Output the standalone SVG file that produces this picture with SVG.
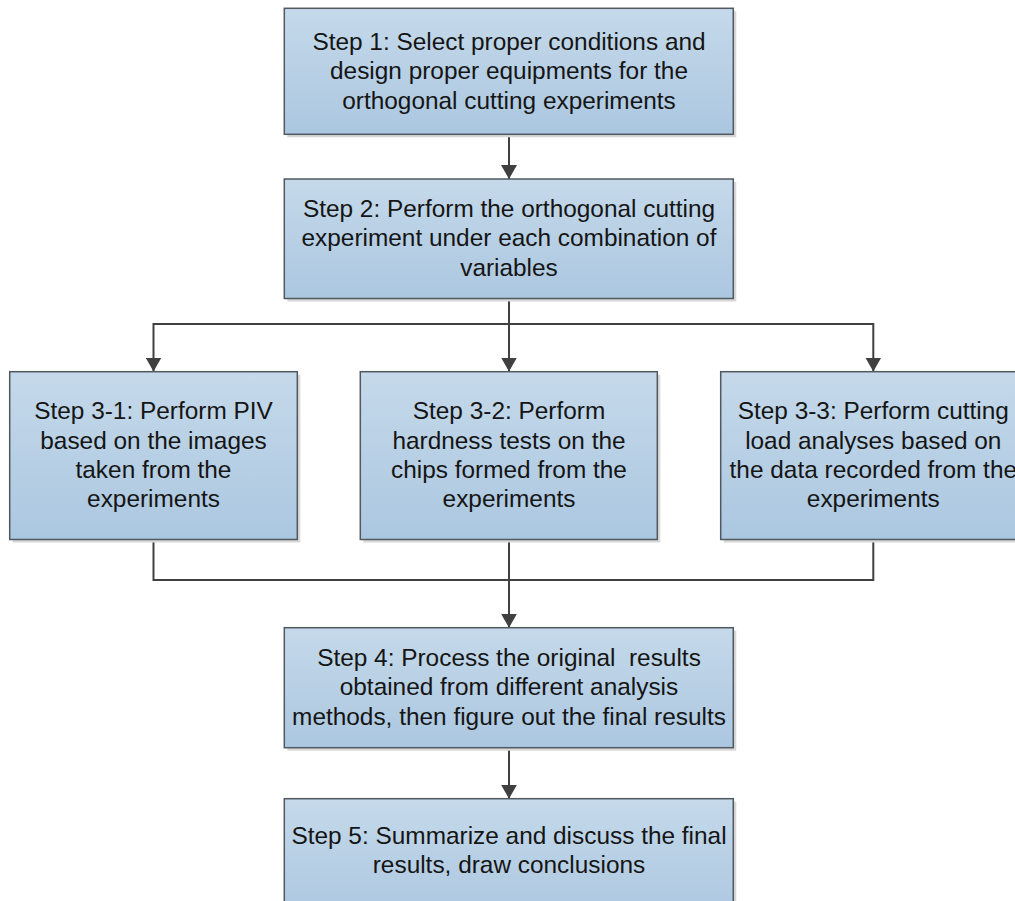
<svg xmlns="http://www.w3.org/2000/svg" width="1015" height="901" viewBox="0 0 1015 901">
<style>
.box{fill:url(#g);stroke:#505860;stroke-width:1.5}
.sh{fill:#d8d8d8}
.t{font-family:"Liberation Sans",Arial,sans-serif;font-size:24.4px;fill:#151515;text-anchor:middle;white-space:pre}
.c{fill:none;stroke:#404040;stroke-width:2}
</style>
<defs>
<linearGradient id="g" x1="0" y1="0" x2="0" y2="1">
<stop offset="0" stop-color="#c5d9ea"/>
<stop offset="1" stop-color="#abc7e0"/>
</linearGradient>
<marker id="a" viewBox="0 0 14 16" refX="14" refY="8" markerWidth="14" markerHeight="16" markerUnits="userSpaceOnUse" orient="auto">
<path d="M0,0 L14,8 L0,16 z" fill="#404040"/>
</marker>
</defs>
<rect width="1015" height="901" fill="#ffffff"/>
<g id="connectors">
<path class="c" d="M509,134.5 V179" marker-end="url(#a)"/>
<path class="c" d="M509,298.5 V371.5" marker-end="url(#a)"/>
<path class="c" d="M509,324 H153.5 V371.5" marker-end="url(#a)"/>
<path class="c" d="M509,324 H873.3 V371.5" marker-end="url(#a)"/>
<path class="c" d="M153.5,539.5 V580 H873.3 V539.5"/>
<path class="c" d="M509,539.5 V627.7" marker-end="url(#a)"/>
<path class="c" d="M509,747.7 V798.7" marker-end="url(#a)"/>
</g>
<g id="step1">
<rect class="sh" x="287.3" y="11.3" width="449" height="126"/>
<rect class="box" x="284.3" y="8.3" width="449" height="126"/>
<text class="t" x="509" y="49.5">Step 1: Select proper conditions and</text>
<text class="t" x="509" y="79">design proper equipments for the</text>
<text class="t" x="509" y="108.5">orthogonal cutting experiments</text>
</g>
<g id="step2">
<rect class="sh" x="287.3" y="182" width="449" height="119.5"/>
<rect class="box" x="284.3" y="179" width="449" height="119.5"/>
<text class="t" x="509" y="216.6">Step 2: Perform the orthogonal cutting</text>
<text class="t" x="509" y="246.1">experiment under each combination of</text>
<text class="t" x="509" y="275.6">variables</text>
</g>
<g id="step3-1">
<rect class="sh" x="12.7" y="374.7" width="287.6" height="167.8"/>
<rect class="box" x="9.7" y="371.7" width="287.6" height="167.8"/>
<text class="t" x="153.5" y="419.3">Step 3-1: Perform PIV</text>
<text class="t" x="153.5" y="448.6">based on the images</text>
<text class="t" x="153.5" y="477.9">taken from the</text>
<text class="t" x="153.5" y="507.2">experiments</text>
</g>
<g id="step3-2">
<rect class="sh" x="363.3" y="374.7" width="297" height="167.8"/>
<rect class="box" x="360.3" y="371.7" width="297" height="167.8"/>
<text class="t" x="509" y="419.3">Step 3-2: Perform</text>
<text class="t" x="509" y="448.6">hardness tests on the</text>
<text class="t" x="509" y="477.9">chips formed from the</text>
<text class="t" x="509" y="507.2">experiments</text>
</g>
<g id="step3-3">
<rect class="sh" x="723.7" y="374.7" width="305" height="167.8"/>
<rect class="box" x="720.7" y="371.7" width="305" height="167.8"/>
<text class="t" x="873.3" y="419.3">Step 3-3: Perform cutting</text>
<text class="t" x="873.3" y="448.6">load analyses based on</text>
<text class="t" x="873.3" y="477.9">the data recorded from the</text>
<text class="t" x="873.3" y="507.2">experiments</text>
</g>
<g id="step4">
<rect class="sh" x="287.3" y="630.7" width="449" height="120"/>
<rect class="box" x="284.3" y="627.7" width="449" height="120"/>
<text class="t" x="509" y="665.5">Step 4: Process the original  results</text>
<text class="t" x="509" y="695">obtained from different analysis</text>
<text class="t" x="509" y="724.5">methods, then figure out the final results</text>
</g>
<g id="step5">
<rect class="sh" x="287.3" y="801.7" width="449" height="120"/>
<rect class="box" x="284.3" y="798.7" width="449" height="120"/>
<text class="t" x="509" y="844">Step 5: Summarize and discuss the final</text>
<text class="t" x="509" y="873.4">results, draw conclusions</text>
</g>
</svg>
